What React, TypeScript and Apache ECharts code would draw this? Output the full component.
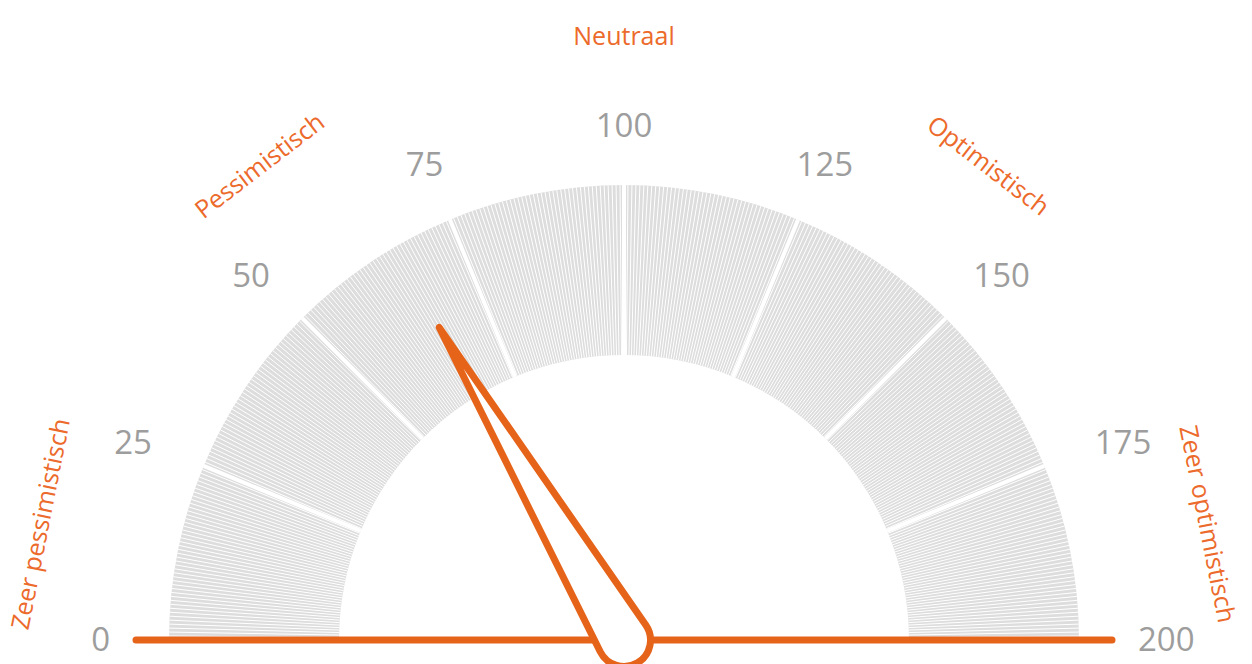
import React, { useEffect, useRef } from 'react';
import * as echarts from 'echarts';

// ---------- data ----------
const gaugeMin = 0;
const gaugeMax = 200;
const tickValues = [0, 25, 50, 75, 100, 125, 150, 175, 200];
const tickLabels = ['0', '25', '50', '75', '100', '125', '150', '175', '200'];
const categoryLabels = ['Zeer pessimistisch', 'Pessimistisch', 'Neutraal', 'Optimistisch', 'Zeer optimistisch'];
const categoryPositions = [12.5, 58.3, 100, 141.7, 187.5];
const needleValue = [66];
const sections = 8;
const minorTicksPerSection = 45;

// ---------- layout / style ----------
const CX = 624;
const CY = 640;
const R_OUT = 455;
const RING_W = 170;
const LABEL_R = 514;
const LABEL_DY = -2;
const CAT_R = 605;
const CAT_R_SIDE_SHRINK = 9;
const BASE_R = 488;
const NEEDLE_R = 26.5;
const NEEDLE_TIP = 363;
const ORANGE = '#E6641A';
const TEXT_ORANGE = '#EC6A2B';
const GRAY_TEXT = '#9d9d9d';
const RING = '#dddddd';
const FONT = '"Open Sans", "Noto Sans", sans-serif';
const TICK_FS = 33;
const CAT_FS = 25;

let measureCtx: CanvasRenderingContext2D | null = null;
function measure(text: string, size: number): number {
  if (!measureCtx) measureCtx = document.createElement('canvas').getContext('2d');
  if (!measureCtx) return text.length * size * 0.55;
  measureCtx.font = `${size}px ${FONT}`;
  return measureCtx.measureText(text).width;
}

const phi = Math.acos(NEEDLE_R / NEEDLE_TIP);
const tx = (NEEDLE_R * Math.sin(phi)).toFixed(3);
const ty = (-NEEDLE_R * Math.cos(phi)).toFixed(3);
const needlePath = `path://M0,${-NEEDLE_TIP} L-${tx},${ty} A${NEEDLE_R},${NEEDLE_R} 0 1 0 ${tx},${ty} Z`;

function buildOption(): any {
  const gaugeBase = {
    type: 'gauge',
    center: [CX, CY],
    radius: R_OUT,
    startAngle: 180,
    endAngle: 0,
    min: gaugeMin,
    max: gaugeMax,
    splitNumber: sections,
    silent: true,
    title: { show: false },
    detail: { show: false },
    anchor: { show: false },
    progress: { show: false },
    axisLabel: { show: false },
  };

  const ringGauge = {
    ...gaugeBase,
    z: 1,
    axisLine: { show: true, roundCap: false, lineStyle: { width: RING_W, color: [[1, RING]] } },
    splitLine: { show: true, distance: -RING_W, length: RING_W, lineStyle: { color: '#ffffff', width: 4 } },
    axisTick: {
      show: true,
      splitNumber: minorTicksPerSection,
      distance: -RING_W,
      length: RING_W,
      lineStyle: { color: '#ffffff', width: 1 },
    },
    pointer: { show: false },
    data: [{ value: needleValue[0] }],
  };

  const pointerGauge = {
    ...gaugeBase,
    z: 3,
    axisLine: { show: false },
    splitLine: { show: false },
    axisTick: { show: false },
    pointer: {
      show: true,
      icon: needlePath,
      length: NEEDLE_TIP + NEEDLE_R,
      width: NEEDLE_R * 2,
      offsetCenter: [0, NEEDLE_R],
      keepAspect: false,
      itemStyle: { color: '#ffffff', borderColor: ORANGE, borderWidth: 7, borderJoin: 'round' },
    },
    data: needleValue.map((v) => ({ value: v })),
  };

  const baseline = {
    type: 'custom',
    coordinateSystem: 'polar',
    z: 2,
    silent: true,
    data: [[0, gaugeMin]],
    renderItem: (params: any, api: any) => {
      const a = api.coord([BASE_R, gaugeMin]);
      const b = api.coord([BASE_R, gaugeMax]);
      return {
        type: 'line',
        shape: { x1: a[0], y1: a[1], x2: b[0], y2: b[1] },
        style: { stroke: ORANGE, lineWidth: 7, lineCap: 'round' },
      };
    },
  };

  const tickLabelSeries = {
    type: 'custom',
    coordinateSystem: 'polar',
    z: 4,
    silent: true,
    data: tickValues.map((v) => [0, v]),
    renderItem: (params: any, api: any) => {
      const v = api.value(1);
      const c = api.coord([0, v]);
      const p = api.coord([LABEL_R, v]);
      const cosT = (p[0] - c[0]) / LABEL_R;
      const text = tickLabels[params.dataIndex];
      const w = measure(text, TICK_FS);
      return {
        type: 'text',
        x: p[0] + cosT * Math.abs(cosT) * (w / 2),
        y: p[1] + LABEL_DY,
        style: {
          text,
          fill: GRAY_TEXT,
          fontSize: TICK_FS,
          fontFamily: FONT,
          align: 'center',
          verticalAlign: 'middle',
        },
      };
    },
  };

  const categorySeries = {
    type: 'custom',
    coordinateSystem: 'polar',
    z: 4,
    silent: true,
    data: categoryPositions.map((v) => [0, v]),
    renderItem: (params: any, api: any) => {
      const v = api.value(1);
      const c = api.coord([0, v]);
      const d = api.coord([CAT_R, v]);
      const cosT = Math.abs((d[0] - c[0]) / CAT_R);
      const r = CAT_R - CAT_R_SIDE_SHRINK * cosT;
      const p = api.coord([r, v]);
      const ang = Math.atan2(c[1] - p[1], p[0] - c[0]);
      return {
        type: 'text',
        x: p[0],
        y: p[1],
        rotation: ang - Math.PI / 2,
        style: {
          text: categoryLabels[params.dataIndex],
          fill: TEXT_ORANGE,
          fontSize: CAT_FS,
          fontFamily: FONT,
          align: 'center',
          verticalAlign: 'middle',
        },
      };
    },
  };

  return {
    animation: false,
    backgroundColor: '#ffffff',
    polar: { center: [CX, CY], radius: R_OUT },
    angleAxis: { type: 'value', min: 0, max: gaugeMax * 2, startAngle: 180, clockwise: true, show: false },
    radiusAxis: { type: 'value', min: 0, max: R_OUT, show: false },
    series: [ringGauge, baseline, pointerGauge, tickLabelSeries, categorySeries],
  };
}

export default function App() {
  const ref = useRef<HTMLDivElement>(null);
  useEffect(() => {
    document.body.style.margin = '0';
    const chart = echarts.init(ref.current as HTMLDivElement, null, { renderer: 'svg' });
    chart.setOption(buildOption());
    return () => chart.dispose();
  }, []);
  return <div ref={ref} style={{ width: 1252, height: 664 }} />;
}
